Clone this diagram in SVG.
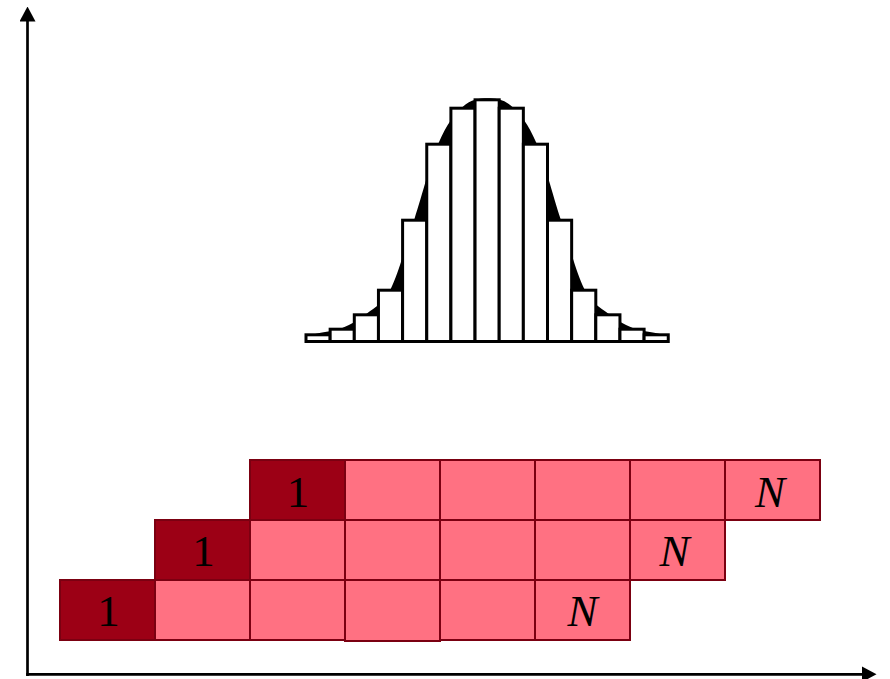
<svg xmlns="http://www.w3.org/2000/svg" width="890" height="679" viewBox="0 0 890 679">
<style>
.ax{stroke:#000;stroke-width:2.7;fill:none}
.bar{fill:#fff;stroke:#000;stroke-width:3}
.d{fill:#9c0015;stroke:#7b0011;stroke-width:2}
.l{fill:#ff7182;stroke:#7b0011;stroke-width:2}
.t{font-family:"Liberation Serif","DejaVu Serif",serif;font-size:45px;fill:#000;text-anchor:middle}
.n{font-style:italic}
</style>
<defs>
<marker id="arr" viewBox="0 0 15 16" refX="0.5" refY="8" markerWidth="15" markerHeight="16" markerUnits="userSpaceOnUse" orient="auto">
<path d="M0,0 L15,8 L0,16 Z" fill="#000"/>
</marker>
</defs>
<rect width="890" height="679" fill="#fff"/>
<g id="connectors">
<line class="ax" x1="27.5" y1="676" x2="27.5" y2="21" marker-end="url(#arr)"/>
<line class="ax" x1="26.2" y1="674.3" x2="862" y2="674.3" marker-end="url(#arr)"/>
</g>
<g id="histogram">
<path fill="#000" d="M306,336 C308.05,335.55 312.17,334.68 318.3,333.3 C324.43,331.92 334.65,331.03 342.8,327.7 C350.95,324.37 359.2,319.8 367.2,313.3 C375.2,306.8 382.92,304.47 390.8,288.7 C398.68,272.93 406.52,243.03 414.5,218.7 C422.48,194.37 430.65,161.37 438.7,142.7 C446.75,124.03 454.67,114.1 462.8,106.7 C470.93,99.3 479.27,98.3 487.5,98.3 C495.73,98.3 504.07,99.3 512.2,106.7 C520.33,114.1 528.25,124.03 536.3,142.7 C544.35,161.37 552.52,194.37 560.5,218.7 C568.48,243.03 576.32,272.93 584.2,288.7 C592.08,304.47 599.8,306.8 607.8,313.3 C615.8,319.8 624.05,324.37 632.2,327.7 C640.35,331.03 650.57,331.92 656.7,333.3 C662.83,334.68 666.95,335.55 668,336 L668,342 L306,342 Z"/>
<rect class="bar" x="306" y="334.8" width="24.15" height="6.7"/>
<rect class="bar" x="330.15" y="329.2" width="24.15" height="12.3"/>
<rect class="bar" x="354.3" y="314.8" width="24.15" height="26.7"/>
<rect class="bar" x="378.45" y="290.2" width="24.15" height="51.3"/>
<rect class="bar" x="402.6" y="220.2" width="24.15" height="121.3"/>
<rect class="bar" x="426.75" y="144.2" width="24.15" height="197.3"/>
<rect class="bar" x="450.9" y="108.2" width="24.15" height="233.3"/>
<rect class="bar" x="475.05" y="99.8" width="24.15" height="241.7"/>
<rect class="bar" x="499.2" y="108.2" width="24.15" height="233.3"/>
<rect class="bar" x="523.35" y="144.2" width="24.15" height="197.3"/>
<rect class="bar" x="547.5" y="220.2" width="24.15" height="121.3"/>
<rect class="bar" x="571.65" y="290.2" width="24.15" height="51.3"/>
<rect class="bar" x="595.8" y="314.8" width="24.15" height="26.7"/>
<rect class="bar" x="619.95" y="329.2" width="24.15" height="12.3"/>
<rect class="bar" x="644.1" y="334.8" width="24.15" height="6.7"/>
</g>
<g id="row1">
<g id="r1c1"><rect class="d" x="250" y="460" width="95" height="60"/><text class="t" x="298" y="506.5">1</text></g>
<g id="r1c2"><rect class="l" x="345" y="460" width="95" height="60"/></g>
<g id="r1c3"><rect class="l" x="440" y="460" width="95" height="60"/></g>
<g id="r1c4"><rect class="l" x="535" y="460" width="95" height="60"/></g>
<g id="r1c5"><rect class="l" x="630" y="460" width="95" height="60"/></g>
<g id="r1c6"><rect class="l" x="725" y="460" width="95" height="60"/><text class="t n" x="770" y="506.5">N</text></g>
</g>
<g id="row2">
<g id="r2c1"><rect class="d" x="155" y="520" width="95" height="60"/><text class="t" x="203.5" y="566">1</text></g>
<g id="r2c2"><rect class="l" x="250" y="520" width="95" height="60"/></g>
<g id="r2c3"><rect class="l" x="345" y="520" width="95" height="60"/></g>
<g id="r2c4"><rect class="l" x="440" y="520" width="95" height="60"/></g>
<g id="r2c5"><rect class="l" x="535" y="520" width="95" height="60"/></g>
<g id="r2c6"><rect class="l" x="630" y="520" width="95" height="60"/><text class="t n" x="674.5" y="565.5">N</text></g>
</g>
<g id="row3">
<g id="r3c1"><rect class="d" x="60" y="580" width="95" height="60"/><text class="t" x="108.5" y="626">1</text></g>
<g id="r3c2"><rect class="l" x="155" y="580" width="95" height="60"/></g>
<g id="r3c3"><rect class="l" x="250" y="580" width="95" height="60"/></g>
<g id="r3c4"><rect class="l" x="345" y="580" width="95" height="61"/></g>
<g id="r3c5"><rect class="l" x="440" y="580" width="95" height="60"/></g>
<g id="r3c6"><rect class="l" x="535" y="580" width="95" height="60"/><text class="t n" x="582.5" y="625.7">N</text></g>
</g>
</svg>
